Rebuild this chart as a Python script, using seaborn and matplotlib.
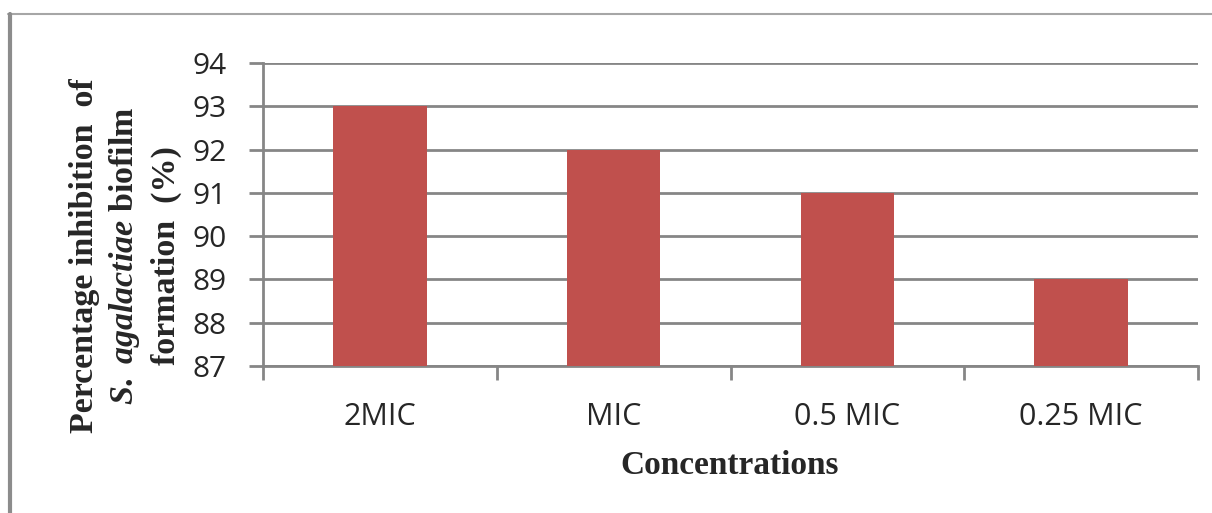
import matplotlib
matplotlib.use("Agg")
import matplotlib.pyplot as plt
from matplotlib.lines import Line2D
import seaborn as sns
import pandas as pd

categories = ["2MIC", "MIC", "0.5 MIC", "0.25 MIC"]
values = [93, 92, 91, 89]
yticks = [87, 88, 89, 90, 91, 92, 93, 94]

sns.set_style("white")
plt.rcParams["mathtext.fontset"] = "custom"
plt.rcParams["mathtext.it"] = "Liberation Serif:italic:bold"
plt.rcParams["mathtext.rm"] = "Liberation Serif:bold"
plt.rcParams["mathtext.bf"] = "Liberation Serif:bold"

W, H = 1212, 513
fig = plt.figure(figsize=(W / 100, H / 100), dpi=100)
ax = fig.add_axes([263 / W, 1 - 366 / H, (1198 - 263) / W, (366 - 63) / H])

df = pd.DataFrame({"cat": categories, "val": values})
sns.barplot(data=df, x="cat", y="val", color="#C0504D", width=0.4,
            saturation=1, ax=ax, zorder=3, edgecolor="none")

grid_c = "#868686"
ax.set_ylim(87, 94)
ax.set_xlim(-0.5, 3.5)
ax.set_yticks(yticks)
ax.set_yticklabels([str(v) for v in yticks], fontsize=21.5, family="Open Sans")
ax.yaxis.grid(True, color=grid_c, linewidth=2, zorder=0)
ax.set_axisbelow(True)

ax.set_xticks(range(len(categories)))
ax.set_xticklabels(categories, fontsize=22, family="Open Sans")
ax.set_xticks([-0.5, 0.5, 1.5, 2.5, 3.5], minor=True)
ax.tick_params(axis="x", which="major", length=0, pad=26, bottom=True)
ax.tick_params(axis="x", which="minor", length=10, width=2, color=grid_c,
               direction="out", bottom=True)
ax.tick_params(axis="y", which="major", length=10, width=2, color=grid_c,
               direction="out", pad=16, left=True)

for s in ["top", "right"]:
    ax.spines[s].set_visible(False)
ax.spines["left"].set_color(grid_c)
ax.spines["left"].set_linewidth(2)
ax.spines["bottom"].set_color(grid_c)
ax.spines["bottom"].set_linewidth(2)
ax.set_xlabel("")
ax.set_ylabel("")

# axis titles
fig.text(730 / W, 1 - 465 / H, "Concentrations", ha="center", va="center",
         fontsize=24, family="Liberation Serif", fontweight="bold")
ly = 1 - 256 / H
fig.text(84 / W, ly, "Percentage inhibition  of", rotation=90, ha="center", va="center",
         fontsize=24.5, family="Liberation Serif", fontweight="bold")
fig.text(124 / W, ly, r"$\mathit{S.}$ $\mathit{agalactiae}$ biofilm", rotation=90,
         ha="center", va="center",
         fontsize=24.5, family="Liberation Serif", fontweight="bold")
fig.text(166 / W, ly, "formation  (%)", rotation=90, ha="center", va="center",
         fontsize=24.5, family="Liberation Serif", fontweight="bold")

# outer frame lines
fig.add_artist(Line2D([8 / W, 1], [1 - 14 / H, 1 - 14 / H], transform=fig.transFigure,
                      color="#a6a6a6", linewidth=1.5))
fig.add_artist(Line2D([10 / W, 10 / W], [0, 1 - 14 / H], transform=fig.transFigure,
                      color="#8c8c8c", linewidth=3))

fig.savefig("out.png", dpi=100)
